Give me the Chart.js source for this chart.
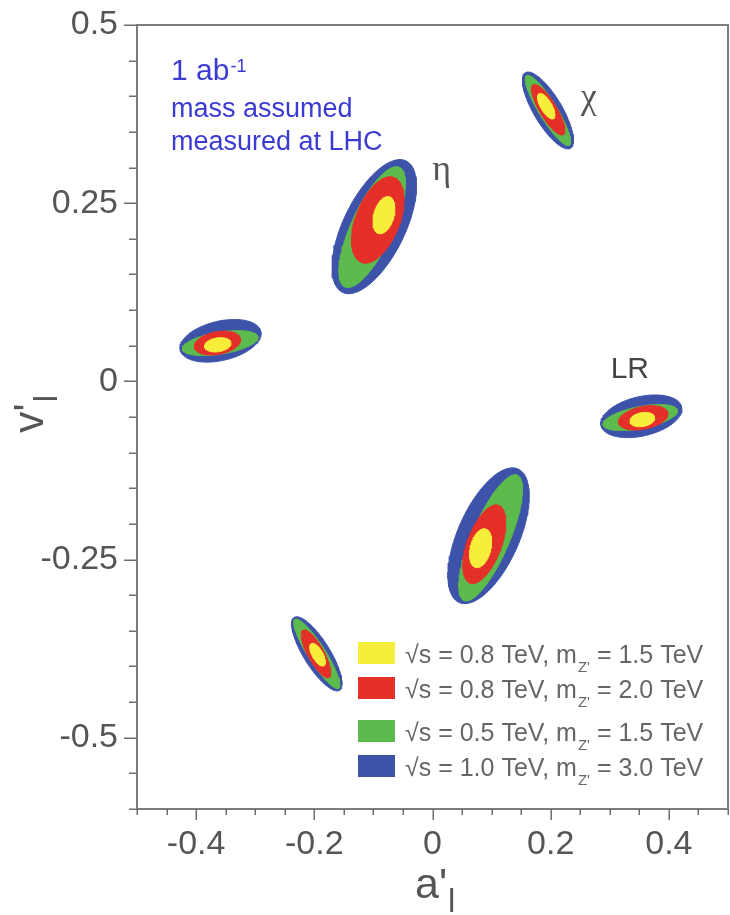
<!DOCTYPE html>
<html>
<head>
<meta charset="utf-8">
<script src="https://cdn.jsdelivr.net/npm/chart.js@4.4.1/dist/chart.umd.min.js"></script>
<style>
  html, body { margin: 0; padding: 0; background: #ffffff; }
  canvas { display: block; }
</style>
</head>
<body>
<canvas id="c" width="730" height="915"></canvas>
<script>
// ---- DATA ----
// Models, in the order of the arrays below
const models = ['χ', 'η', '', 'LR', '', ''];
const modelLabelX = [0.251, -0.0005, null, 0.3014, null, null];
const modelLabelY = [0.383, 0.282, null, 0.0048, null, null];

const xTickLabels = ['-0.4', '-0.2', '0', '0.2', '0.4'];
const yTickLabels = ['0.5', '0.25', '0', '-0.25', '-0.5'];

// Legend entries (top to bottom)
const legendSqrtS = ['0.8', '0.8', '0.5', '1.0'];
const legendMass  = ['1.5', '2.0', '1.5', '3.0'];

// Contours: centre (a'_l, v'_l), semi-axes, orientation (deg)
// √s = 1.0 TeV, m_Z' = 3.0 TeV
const blueCx  = [0.1954, -0.0985, -0.3586, 0.3534, 0.0949, -0.1956];
const blueCy  = [0.3801, 0.2171, 0.0569, -0.0490, -0.2166, -0.3823];
const blueA   = [0.0654, 0.1071, 0.0696, 0.0696, 0.1064, 0.0640];
const blueB   = [0.0226, 0.0500, 0.0278, 0.0278, 0.0500, 0.0210];
const blueAng = [-53, 57.3, 10, 10, 59.7, -52];
// √s = 0.5 TeV, m_Z' = 1.5 TeV
const greenCx  = [0.1954, -0.1020, -0.3591, 0.3517, 0.0985, -0.1956];
const greenCy  = [0.3801, 0.2164, 0.0537, -0.0508, -0.2196, -0.3823];
const greenA   = [0.0609, 0.0960, 0.0648, 0.0640, 0.0990, 0.0610];
const greenB   = [0.0145, 0.0340, 0.0155, 0.0155, 0.0310, 0.0140];
const greenAng = [-53, 60, 7.5, 9, 62, -52];
// √s = 0.8 TeV, m_Z' = 2.0 TeV
const redCx  = [0.1959, -0.0925, -0.3637, 0.3568, 0.0878, -0.1970];
const redCy  = [0.3811, 0.2264, 0.0537, -0.0512, -0.2285, -0.3823];
const redA   = [0.0431, 0.0660, 0.0395, 0.0422, 0.0600, 0.0398];
const redB   = [0.0135, 0.0360, 0.0160, 0.0160, 0.0280, 0.0130];
const redAng = [-53, 62, 8.3, 9, 64, -55.4];
// √s = 0.8 TeV, m_Z' = 1.5 TeV
const yellowCx  = [0.1926, -0.0820, -0.3632, 0.3552, 0.0815, -0.1943];
const yellowCy  = [0.3861, 0.2332, 0.0513, -0.0536, -0.2341, -0.3835];
const yellowA   = [0.0215, 0.0275, 0.0225, 0.0211, 0.0285, 0.0189];
const yellowB   = [0.0089, 0.0165, 0.0098, 0.0098, 0.0170, 0.0085];
const yellowAng = [-53, 67.3, 7, 8, 69.7, -53.6];

// ---- STYLE ----
const COL = { yellow: '#f6ee3a', red: '#e5302a', green: '#5dba4c', blue: '#3d52a9' };
const FONT = "'Liberation Sans', Arial, sans-serif";
const SERIF = "'Liberation Serif', 'DejaVu Serif', serif";

function ellipse(cx, cy, a, b, angDeg) {
  const pts = [];
  const phi = angDeg * Math.PI / 180;
  const n = 120;
  for (let i = 0; i <= n; i++) {
    const t = 2 * Math.PI * i / n;
    const ex = a * Math.cos(t), ey = b * Math.sin(t);
    pts.push({ x: cx + ex * Math.cos(phi) - ey * Math.sin(phi),
               y: cy + ex * Math.sin(phi) + ey * Math.cos(phi) });
  }
  return pts;
}

const levels = [
  { key: 'blue',   order: 4, cx: blueCx,   cy: blueCy,   a: blueA,   b: blueB,   ang: blueAng,   label: "√s = 1.0 TeV, m_Z' = 3.0 TeV" },
  { key: 'green',  order: 3, cx: greenCx,  cy: greenCy,  a: greenA,  b: greenB,  ang: greenAng,  label: "√s = 0.5 TeV, m_Z' = 1.5 TeV" },
  { key: 'red',    order: 2, cx: redCx,    cy: redCy,    a: redA,    b: redB,    ang: redAng,    label: "√s = 0.8 TeV, m_Z' = 2.0 TeV" },
  { key: 'yellow', order: 1, cx: yellowCx, cy: yellowCy, a: yellowA, b: yellowB, ang: yellowAng, label: "√s = 0.8 TeV, m_Z' = 1.5 TeV" }
];

const datasets = [];
levels.forEach(L => {
  models.forEach((m, i) => {
    datasets.push({
      label: L.label,
      data: ellipse(L.cx[i], L.cy[i], L.a[i], L.b[i], L.ang[i]),
      order: L.order,
      showLine: true,
      fill: 'shape',
      backgroundColor: COL[L.key],
      borderColor: COL[L.key],
      borderWidth: 1,
      pointRadius: 0,
      pointHoverRadius: 0,
      tension: 0
    });
  });
});

function fmt(v) { return String(Number(v.toFixed(2))); }

const decor = {
  id: 'decor',
  afterDraw(chart) {
    const { ctx, chartArea: ca, scales: { x, y } } = chart;
    ctx.save();
    // frame
    ctx.strokeStyle = '#7c7c7c';
    ctx.lineWidth = 2;
    ctx.strokeRect(ca.left, ca.top, ca.right - ca.left, ca.bottom - ca.top);
    // tick marks
    ctx.lineWidth = 1.5;
    ctx.strokeStyle = '#6e6e6e';
    ctx.beginPath();
    x.ticks.forEach(t => {
      const px = Math.round(x.getPixelForValue(t.value)) + 0.25;
      const len = t.label ? 11 : 6;
      ctx.moveTo(px, ca.bottom); ctx.lineTo(px, ca.bottom + len);
    });
    y.ticks.forEach(t => {
      const py = Math.round(y.getPixelForValue(t.value)) + 0.25;
      const len = t.label ? 13 : 8;
      ctx.moveTo(ca.left - len, py); ctx.lineTo(ca.left, py);
    });
    ctx.stroke();

    ctx.textAlign = 'left';
    ctx.textBaseline = 'alphabetic';

    // axis titles
    ctx.fillStyle = '#555555';
    ctx.font = '43px ' + FONT;
    ctx.fillText("a'", 415, 898);
    const wa = ctx.measureText("a'").width;
    ctx.font = '33px ' + FONT;
    ctx.fillText('l', 415 + wa + 1, 912);

    ctx.save();
    ctx.translate(43, 433);
    ctx.rotate(-Math.PI / 2);
    ctx.font = '43px ' + FONT;
    ctx.fillText("v'", 0, 0);
    const wv = ctx.measureText("v'").width;
    ctx.font = '33px ' + FONT;
    ctx.fillText('l', wv + 1, 14);
    ctx.restore();

    // luminosity note
    ctx.fillStyle = '#3b3bd4';
    ctx.font = '30px ' + FONT;
    ctx.fillText('1 ab', 171, 80);
    const w1 = ctx.measureText('1 ab').width;
    ctx.font = '18px ' + FONT;
    ctx.fillText('-1', 171 + w1 + 1, 72);
    ctx.font = '27px ' + FONT;
    ctx.fillText('mass assumed', 171, 117);
    ctx.fillText('measured at LHC', 171, 150);

    // model labels
    models.forEach((m, i) => {
      if (!m) return;
      const px = x.getPixelForValue(modelLabelX[i]);
      const py = y.getPixelForValue(modelLabelY[i]);
      if (m === 'LR') { ctx.fillStyle = '#444444'; ctx.font = '30px ' + FONT; }
      else { ctx.fillStyle = '#555555'; ctx.font = '36px ' + SERIF; }
      ctx.fillText(m, px, py);
    });

    // legend
    const legendColors = [COL.yellow, COL.red, COL.green, COL.blue];
    const rowTop = [642, 677, 720, 755];
    legendSqrtS.forEach((s, i) => {
      ctx.fillStyle = legendColors[i];
      ctx.fillRect(358, rowTop[i], 37, 22);
      const base = rowTop[i] + 21;
      ctx.fillStyle = '#666666';
      ctx.font = '25px ' + FONT;
      const p1 = '√s = ' + s + ' TeV, m';
      ctx.fillText(p1, 405, base);
      let xx = 405 + ctx.measureText(p1).width;
      ctx.font = '15px ' + FONT;
      ctx.fillText("Z'", xx + 1, base + 9);
      xx += ctx.measureText("Z'").width + 1;
      ctx.font = '25px ' + FONT;
      ctx.fillText(' = ' + legendMass[i] + ' TeV', xx, base);
    });
    ctx.restore();
  }
};

new Chart(document.getElementById('c'), {
  type: 'line',
  data: { datasets },
  options: {
    responsive: false,
    animation: false,
    devicePixelRatio: 1,
    layout: { padding: { top: 25, right: 2, left: 0, bottom: 0 } },
    plugins: { legend: { display: false }, tooltip: { enabled: false } },
    events: [],
    scales: {
      x: {
        type: 'linear',
        min: -0.5, max: 0.5,
        grid: { display: false, drawTicks: false },
        border: { display: false },
        ticks: {
          stepSize: 0.05, autoSkip: false, maxRotation: 0,
          padding: 15,
          color: '#555555',
          font: { family: FONT, size: 34 },
          callback: v => { const s = fmt(v); return xTickLabels.includes(s) ? s : ''; }
        },
        afterFit: s => { s.height = 106; s.paddingLeft = 0; s.paddingRight = 0; }
      },
      y: {
        type: 'linear',
        min: -0.6, max: 0.5,
        grid: { display: false, drawTicks: false },
        border: { display: false },
        ticks: {
          stepSize: 0.05, autoSkip: false,
          padding: 19,
          color: '#555555',
          font: { family: FONT, size: 34 },
          callback: v => { const s = fmt(v); return yTickLabels.includes(s) ? s : ''; }
        },
        afterFit: s => { s.width = 137; s.paddingTop = 0; s.paddingBottom = 0; }
      }
    }
  },
  plugins: [decor]
});
</script>
</body>
</html>
